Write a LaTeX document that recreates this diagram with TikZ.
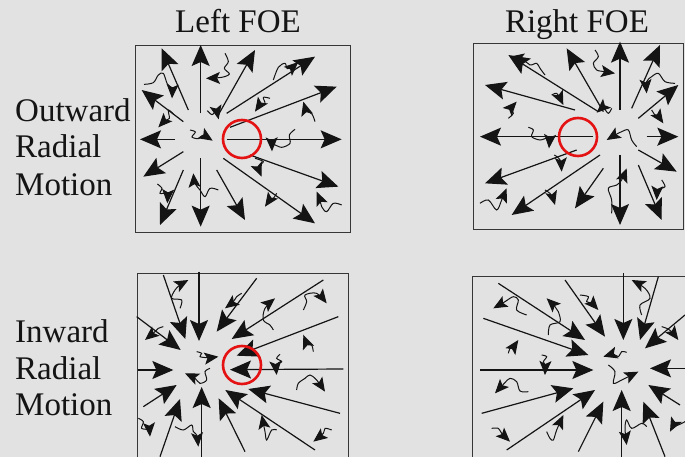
\documentclass[tikz,border=0pt]{standalone}
\usepackage{fontspec}
\setmainfont{Liberation Serif}
\usetikzlibrary{arrows.meta}
\definecolor{bg}{RGB}{226,226,226}
\definecolor{ink}{RGB}{20,20,20}
\definecolor{foered}{RGB}{228,18,18}
\newcommand\wig[1]{\draw[noise] plot[smooth, tension=0.55] coordinates {#1};}
\begin{document}
\begin{tikzpicture}[x=1pt,y=-1pt,
  big/.style={draw=ink, line width=1.2pt, -{Stealth[length=21pt,width=18pt,inset=4pt]}},
  noise/.style={draw=ink, line width=1pt, -{Stealth[length=14pt,width=12pt,inset=3pt]}},
  frame/.style={draw=ink!85, line width=0.9pt},
  foe/.style={draw=foered, line width=2.6pt},
  zoomed/.style={x=0.333333pt, y=-0.333333pt},
  lab/.style={font=\fontsize{33}{37}\selectfont, text=ink, inner sep=0pt, anchor=base west},
  ttl/.style={font=\fontsize{33}{37}\selectfont, text=ink, inner sep=0pt, anchor=base}]
\useasboundingbox (0,0) rectangle (685,457);
\fill[bg] (0,0) rectangle (685,457);
\clip (0,0) rectangle (685,457);

% titles and side labels
\node[ttl] (tl) at (238,33) {Left FOE};
\node[ttl] (tr) at (577,33) {Right FOE};
\node[lab] (o1) at (15,121.5) {Outward};
\node[lab] (o2) at (15,158) {Radial};
\node[lab] (o3) at (15,196) {Motion};
\node[lab] (i1) at (15,342) {Inward};
\node[lab] (i2) at (15,379) {Radial};
\node[lab] (i3) at (15,415) {Motion};

% frames
\draw[frame] (135,45) rectangle (350,232);
\draw[frame] (473,43) rectangle (683,229);
\draw[frame] (137,273) rectangle (348,470);
\draw[frame] (472,276) rectangle (700,470);

% ---------- panel 1: outward, left FOE ----------
\begin{scope}[shift={(130,40)}, zoomed]
\draw[big] (212,220)--(212,15);
\draw[big] (175,210)--(95,25);
\draw[big] (160,245)--(35,150);
\draw[big] (135,298)--(30,298);
\draw[big] (160,335)--(40,410);
\draw[big] (160,390)--(90,555);
\draw[big] (212,355)--(212,560);
\draw[big] (260,390)--(345,540);
\draw[big] (280,355)--(555,550);
\draw[big] (360,345)--(625,440);
\draw[big] (290,298)--(635,298);
\draw[big] (300,262)--(620,140);
\draw[big] (290,220)--(555,50);
\draw[big] (262,230)--(375,30);
\wig{(285,40) (295,65) (283,85) (298,102) (275,112) (228,115)}
\wig{(42,133) (70,128) (85,105) (100,100) (112,132) (125,145) (126,175)}
\wig{(130,222) (115,210) (118,235) (105,242) (85,262)}
\wig{(180,270) (196,276) (186,291) (206,296) (218,286) (248,302)}
\wig{(232,212) (246,224) (258,214) (266,238)}
\wig{(420,175) (400,172) (405,190) (390,196) (375,215)}
\wig{(430,120) (445,82) (465,70) (472,86) (490,78) (505,66)}
\wig{(555,245) (546,222) (530,212) (520,185)}
\wig{(495,268) (478,285) (480,310) (455,322) (430,314) (426,334)}
\wig{(375,355) (400,365) (386,380) (395,410)}
\wig{(440,460) (430,475) (420,480) (405,500)}
\wig{(635,495) (610,490) (590,515) (575,500) (570,480) (560,455)}
\wig{(82,432) (96,445) (90,460) (110,462) (112,490)}
\wig{(265,450) (240,445) (225,470) (210,450) (195,430) (190,400)}
\end{scope}
\draw[foe] (242,139) circle[radius=19];

% ---------- panel 2: outward, right FOE ----------
\begin{scope}[shift={(465,40)}, zoomed]
\draw[big] (465,210)--(465,5);
\draw[big] (415,215)--(305,25);
\draw[big] (400,215)--(130,45);
\draw[big] (330,210)--(60,135);
\draw[big] (385,290)--(45,290);
\draw[big] (335,330)--(60,430);
\draw[big] (405,345)--(140,525);
\draw[big] (415,385)--(330,505);
\draw[big] (465,345)--(465,555);
\draw[big] (520,375)--(590,540);
\draw[big] (520,330)--(635,395);
\draw[big] (545,290)--(640,290);
\draw[big] (520,235)--(640,135);
\draw[big] (500,205)--(585,15);
\wig{(240,105) (225,85) (215,70) (195,75) (175,60) (135,50)}
\wig{(390,30) (400,50) (385,70) (395,90) (420,95) (450,100)}
\wig{(260,165) (275,160) (285,175) (295,195)}
\wig{(130,235) (145,220) (140,205) (155,185)}
\wig{(440,205) (430,220) (415,205) (395,218)}
\wig{(190,262) (205,270) (200,290) (225,300) (250,295) (252,325)}
\wig{(515,320) (500,300) (490,270) (470,275) (450,285) (425,300)}
\wig{(268,345) (285,360) (290,395)}
\wig{(630,130) (600,125) (580,100) (560,110) (545,125) (545,160)}
\wig{(560,210) (570,225) (580,230) (595,250)}
\wig{(45,490) (70,480) (95,510) (110,480) (125,445)}
\wig{(240,450) (255,460) (262,470) (270,495)}
\wig{(440,520) (440,480) (430,445) (455,435) (470,420) (485,385)}
\wig{(590,420) (600,440) (580,450) (575,480)}
\end{scope}
\draw[foe] (578,137) circle[radius=19];

% ---------- panel 3: inward, left FOE ----------
\begin{scope}[shift={(130,265)}, zoomed]
\draw[big] (207,20)--(207,228);
\draw[big] (100,30)--(166,222);
\draw[big] (20,155)--(152,255);
\draw[big] (25,315)--(130,315);
\draw[big] (40,425)--(140,360);
\draw[big] (90,575)--(150,402);
\draw[big] (215,575)--(215,366);
\draw[big] (345,560)--(266,400);
\draw[big] (555,555)--(286,375);
\draw[big] (630,445)--(355,372);
\draw[big] (640,312)--(300,314);
\draw[big] (625,155)--(320,272);
\draw[big] (580,45)--(305,222);
\draw[big] (380,40)--(260,200);
\wig{(150,130) (155,105) (125,100) (135,75) (150,60) (175,45)}
\wig{(335,85) (320,95) (310,110) (285,130)}
\wig{(430,195) (420,180) (400,165) (405,130) (435,100)}
\wig{(520,135) (530,110) (525,90) (560,85) (590,115)}
\wig{(100,185) (85,190) (75,200) (45,225)}
\wig{(200,260) (215,265) (210,275) (235,278) (265,275)}
\wig{(550,260) (545,240) (530,230) (520,210)}
\wig{(450,268) (440,280) (455,290) (440,300) (440,330)}
\wig{(240,310) (225,320) (230,345) (210,355) (195,340) (165,325)}
\wig{(500,375) (505,355) (525,340) (540,330) (560,345) (585,380)}
\wig{(25,460) (40,470) (35,490) (55,495) (60,515)}
\wig{(135,485) (160,495) (185,480) (190,500) (200,510) (205,545)}
\wig{(440,495) (425,495) (410,525) (405,500) (395,450)}
\wig{(605,495) (585,490) (580,505) (550,530)}
\end{scope}
\draw[foe] (242,365) circle[radius=19];

% ---------- panel 4: inward, right FOE ----------
\begin{scope}[shift={(465,265)}, zoomed]
\draw[big] (475,25)--(475,225);
\draw[big] (580,35)--(525,225);
\draw[big] (660,150)--(540,250);
\draw[big] (660,310)--(555,310);
\draw[big] (645,420)--(550,360);
\draw[big] (600,575)--(535,410);
\draw[big] (470,575)--(470,375);
\draw[big] (340,560)--(415,410);
\draw[big] (125,555)--(390,375);
\draw[big] (50,445)--(325,370);
\draw[big] (45,315)--(385,315);
\draw[big] (55,160)--(370,270);
\draw[big] (100,55)--(360,225);
\draw[big] (300,45)--(420,215);
\wig{(185,150) (155,135) (160,105) (145,95) (120,110) (85,130)}
\wig{(250,210) (255,180) (285,170) (280,140) (270,125) (245,100)}
\wig{(345,90) (370,95) (365,110) (380,115) (400,135)}
\wig{(530,150) (525,120) (555,100) (540,70) (500,45)}
\wig{(590,185) (605,190) (620,200) (640,225)}
\wig{(130,265) (135,250) (145,245) (160,225)}
\wig{(230,270) (245,275) (235,290) (240,300) (240,330)}
\wig{(485,262) (470,260) (460,275) (445,268) (415,275)}
\wig{(430,300) (450,320) (445,355) (470,345) (490,335) (520,320)}
\wig{(190,380) (165,378) (155,350) (135,340) (118,355) (90,385)}
\wig{(245,500) (255,520) (265,525) (275,495) (295,450)}
\wig{(80,490) (100,490) (110,505) (135,530)}
\wig{(545,485) (530,475) (500,490) (485,465) (480,490) (485,540)}
\wig{(660,470) (640,480) (625,485) (615,500)}
\end{scope}
\end{tikzpicture}
\end{document}
